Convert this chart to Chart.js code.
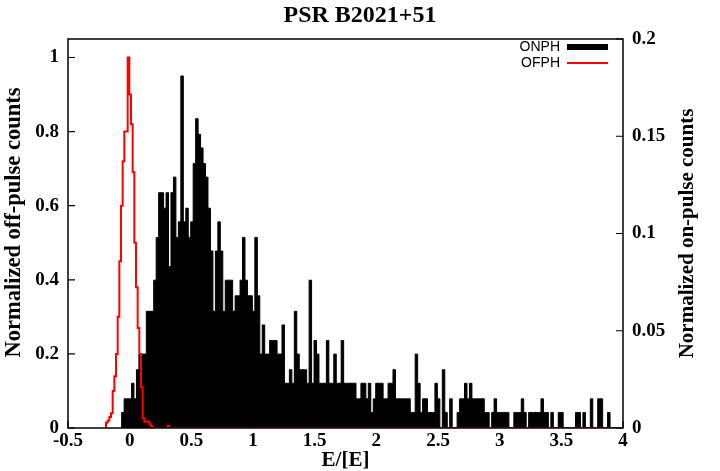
<!DOCTYPE html>
<html>
<head>
<meta charset="utf-8">
<title>PSR B2021+51</title>
<script src="https://cdn.jsdelivr.net/npm/chart.js@4.4.1/dist/chart.umd.min.js"></script>
<style>
  html, body { margin: 0; padding: 0; background: #fff; }
  #chart { display: block; }
</style>
</head>
<body>
<canvas id="chart" width="720" height="471"></canvas>
<script>
const TITLE = 'PSR B2021+51';
const X_LABEL = 'E/[E]';
const Y_LEFT_LABEL = 'Normalized off-pulse counts';
const Y_RIGHT_LABEL = 'Normalized on-pulse counts';

// tick labels
const xTicks = [-0.5, 0, 0.5, 1, 1.5, 2, 2.5, 3, 3.5, 4];
const yLeftTicks = [0, 0.2, 0.4, 0.6, 0.8, 1];
const yRightTicks = [0, 0.05, 0.1, 0.15, 0.2];

// ONPH histogram (right axis): centre of first bin and bin width, in E/[E]
const onFirstBin = -0.055;
const onBinWidth = 0.02;
const onValues = [
  0.008, 0.015, 0.015, 0.015, 0.023, 0.015, 0.030, 0.038, 0.038, 0.038,
  0.060, 0.060, 0.060, 0.076, 0.098, 0.121, 0.121, 0.113, 0.121, 0.083,
  0.121, 0.129, 0.098, 0.106, 0.181, 0.106, 0.113, 0.098, 0.106, 0.136,
  0.159, 0.151, 0.144, 0.136, 0.129, 0.113, 0.091, 0.060, 0.091, 0.106,
  0.091, 0.060, 0.076, 0.076, 0.076, 0.060, 0.068, 0.068, 0.076, 0.098,
  0.076, 0.068, 0.068, 0.060, 0.098, 0.068, 0.038, 0.053, 0.038, 0.038,
  0.045, 0.045, 0.045, 0.038, 0.038, 0.053, 0.023, 0.023, 0.030, 0.023,
  0.060, 0.038, 0.030, 0.030, 0.030, 0.023, 0.076, 0.023, 0.045, 0.038,
  0.023, 0.023, 0.023, 0.045, 0.023, 0.023, 0.038, 0.023, 0.023, 0.045,
  0.023, 0.023, 0.023, 0.023, 0.023, 0.015, 0.015, 0.023, 0.023, 0.015,
  0.023, 0.008, 0.015, 0.023, 0.023, 0.023, 0.015, 0.015, 0.023, 0.023,
  0.030, 0.015, 0.015, 0.015, 0.015, 0.015, 0.015, 0.008, 0.008, 0.038,
  0.023, 0.008, 0.015, 0.015, 0.008, 0.008, 0.008, 0.023, 0.015, 0,
  0.030, 0.008, 0, 0.015, 0, 0, 0.008, 0.015, 0.015, 0.023,
  0.015, 0.023, 0.015, 0.015, 0.015, 0.015, 0.015, 0.008, 0.008, 0,
  0.008, 0.015, 0.008, 0.008, 0.008, 0.008, 0.008, 0, 0, 0.008,
  0.008, 0.008, 0.015, 0.008, 0, 0.008, 0.008, 0.008, 0.008, 0.008,
  0.015, 0.008, 0.008, 0, 0.008, 0, 0, 0.008, 0.008, 0,
  0, 0, 0, 0, 0.008, 0.008, 0, 0.008, 0, 0,
  0.015, 0, 0, 0.015, 0.015, 0, 0, 0.008
];

// OFPH histogram (left axis)
const offFirstBin = -0.185;
const offBinWidth = 0.0135;
const offValues = [
  0.015, 0.02, 0.03, 0.04, 0.1, 0.14, 0.2, 0.3, 0.45, 0.6,
  0.72, 0.8, 0.8, 1.0, 0.9, 0.82, 0.69, 0.5, 0.38, 0.27,
  0.2, 0.11, 0.026, 0.017, 0.017, 0.017, 0.01, 0.005, 0, 0,
  0, 0, 0, 0, 0, 0, 0, 0.006
];

const SERIF = "'Liberation Serif', 'Times New Roman', serif";
const SANS = "'Liberation Sans', Arial, sans-serif";

// turn a bin list into points for a stepped line, closed at zero on both ends
function histPoints(first, width, values, tailTo) {
  const pts = [{ x: first - width, y: 0 }];
  values.forEach((v, i) => pts.push({ x: first + i * width, y: v }));
  pts.push({ x: first + values.length * width, y: 0 });
  if (tailTo !== undefined) pts.push({ x: tailTo, y: 0 });
  return pts;
}

const onPoints = histPoints(onFirstBin, onBinWidth, onValues);
const offPoints = histPoints(offFirstBin, offBinWidth, offValues, xTicks[xTicks.length - 1]);

const tickFont = { family: SERIF, size: 19, weight: 'bold', lineHeight: 1.2 };
const axisTitleFont = { family: SERIF, size: 21, weight: 'bold', lineHeight: 1 };

function rotatedLabel(ctx, text, x, y, size) {
  ctx.save();
  ctx.translate(x, y);
  ctx.rotate(-Math.PI / 2);
  ctx.font = 'bold ' + size + 'px ' + SERIF;
  ctx.fillStyle = '#000';
  ctx.textAlign = 'center';
  ctx.textBaseline = 'middle';
  ctx.fillText(text, 0, 0);
  ctx.restore();
}

// box, inward ticks, legend and y axis titles (gnuplot look)
const framePlugin = {
  id: 'frame',
  afterDatasetsDraw(chart) {
    const { ctx, chartArea: a, scales } = chart;
    ctx.save();
    ctx.strokeStyle = '#000';
    ctx.lineWidth = 1.5;
    ctx.strokeRect(a.left, a.top, a.right - a.left, a.bottom - a.top);

    ctx.lineWidth = 1.2;
    ctx.beginPath();
    yLeftTicks.forEach(v => {
      const y = scales.y.getPixelForValue(v);
      ctx.moveTo(a.left, y); ctx.lineTo(a.left + 7, y);
    });
    yRightTicks.forEach(v => {
      const y = scales.y2.getPixelForValue(v);
      ctx.moveTo(a.right, y); ctx.lineTo(a.right - 7, y);
    });
    xTicks.forEach(v => {
      const x = scales.x.getPixelForValue(v);
      ctx.moveTo(x, a.bottom); ctx.lineTo(x, a.bottom - 7);
    });
    ctx.stroke();

    // legend
    ctx.font = '14px ' + SANS;
    ctx.fillStyle = '#000';
    ctx.textAlign = 'right';
    ctx.textBaseline = 'middle';
    ctx.fillText('ONPH', 560, 47);
    ctx.fillText('OFPH', 560, 63);
    ctx.fillRect(567, 44, 41, 6);
    ctx.strokeStyle = '#ff0000';
    ctx.lineWidth = 2;
    ctx.beginPath();
    ctx.moveTo(567, 63); ctx.lineTo(608, 63);
    ctx.stroke();
    ctx.restore();

    rotatedLabel(ctx, Y_LEFT_LABEL, 14, (a.top + a.bottom) / 2 - 11, 22.5);
    rotatedLabel(ctx, Y_RIGHT_LABEL, 688, (a.top + a.bottom) / 2, 21);
  }
};

new Chart(document.getElementById('chart'), {
  type: 'line',
  data: {
    datasets: [
      {
        label: 'OFPH', data: offPoints, yAxisID: 'y', stepped: 'middle',
        borderColor: '#ff0000', borderWidth: 2, pointRadius: 0, fill: false, order: 0
      },
      {
        label: 'ONPH', data: onPoints, yAxisID: 'y2', stepped: 'middle',
        borderColor: '#000', borderWidth: 1, backgroundColor: '#000',
        pointRadius: 0, fill: 'origin', order: 1
      }
    ]
  },
  options: {
    responsive: false,
    animation: false,
    devicePixelRatio: 1,
    layout: { padding: 0 },
    plugins: {
      legend: { display: false },
      tooltip: { enabled: false },
      title: {
        display: true, text: TITLE, color: '#000',
        font: { family: SERIF, size: 24, weight: 'bold', lineHeight: 1.2 },
        padding: { top: 1.6, bottom: 8.6 }
      }
    },
    scales: {
      x: {
        type: 'linear', min: xTicks[0], max: xTicks[xTicks.length - 1],
        afterBuildTicks: s => { s.ticks = xTicks.map(v => ({ value: v })); },
        afterFit: s => { s.height = 43; },
        grid: { display: false, drawTicks: false },
        border: { display: false },
        ticks: { color: '#000', font: tickFont, padding: 2, maxRotation: 0, autoSkip: false, callback: v => String(v) },
        title: { display: true, text: X_LABEL, color: '#000', font: axisTitleFont, padding: 0 }
      },
      y: {
        position: 'left', min: 0, max: 1.05,
        afterBuildTicks: s => { s.ticks = yLeftTicks.map(v => ({ value: v })); },
        afterFit: s => { s.width = 68; },
        grid: { display: false, drawTicks: false },
        border: { display: false },
        ticks: { color: '#000', font: tickFont, padding: 9, autoSkip: false, callback: v => String(v) }
      },
      y2: {
        position: 'right', min: 0, max: 0.2,
        afterBuildTicks: s => { s.ticks = yRightTicks.map(v => ({ value: v })); },
        afterFit: s => { s.width = 97; },
        grid: { display: false, drawTicks: false },
        border: { display: false },
        ticks: { color: '#000', font: tickFont, padding: 9, autoSkip: false, callback: v => String(v) }
      }
    }
  },
  plugins: [framePlugin]
});
</script>
</body>
</html>
